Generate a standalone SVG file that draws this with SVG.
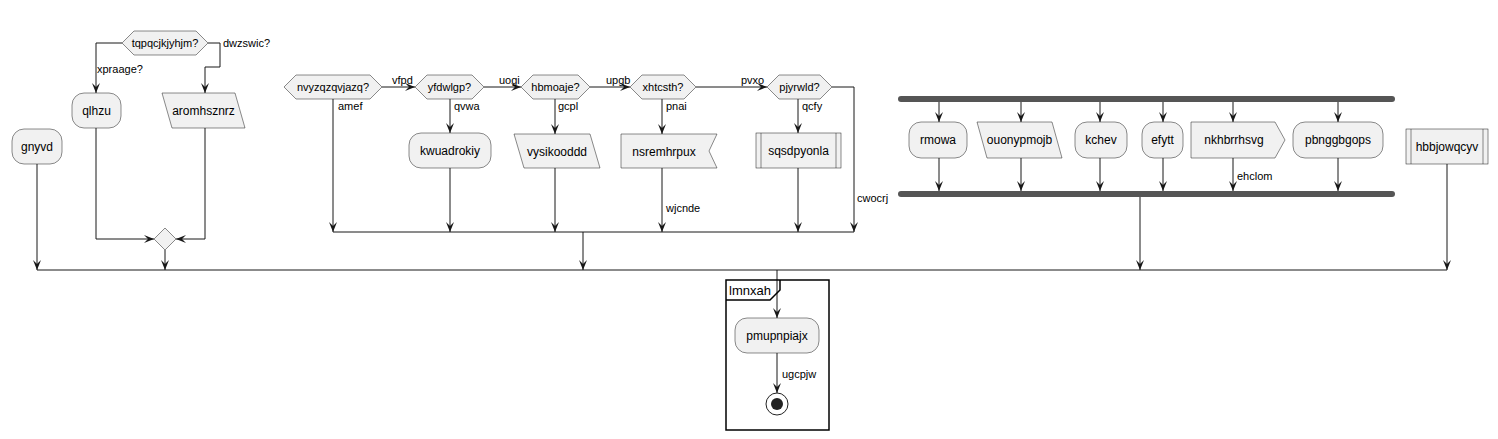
<svg xmlns="http://www.w3.org/2000/svg" width="1498" height="439" viewBox="0 0 1498 439">
<defs>
<style>
.n{fill:#F1F1F1;stroke:#181818;stroke-width:0.5}
.t{font-family:"Liberation Sans",Arial,sans-serif;font-size:12px;fill:#000;text-anchor:middle}
.h{font-family:"Liberation Sans",Arial,sans-serif;font-size:11px;fill:#000;text-anchor:middle}
.l{font-family:"Liberation Sans",Arial,sans-serif;font-size:11px;fill:#000}
.c path{fill:none;stroke:#181818;stroke-width:1}
.c path.a{marker-end:url(#ar)}
.bar{fill:#555555}
</style>
<marker id="ar" markerUnits="userSpaceOnUse" markerWidth="12" markerHeight="10" refX="10" refY="4" orient="auto">
<path d="M0,0 L10,4 L0,8 L4,4 Z" fill="#181818"/>
</marker>
</defs>
<rect width="1498" height="439" fill="#FFFFFF"/>

<g id="connectors" class="c">
<path class="a" d="M122,43 H96 V93"/>
<path class="a" d="M208,43 H220 V67 H205 V93"/>
<path class="a" d="M96,128 V239 H154"/>
<path class="a" d="M205,128 V239 H176"/>
<path class="a" d="M165,250 V270"/>
<path class="a" d="M37,164 V270"/>
<path class="a" d="M382,87 H415"/>
<path class="a" d="M484,87 H521"/>
<path class="a" d="M590,87 H630"/>
<path class="a" d="M696,87 H767"/>
<path class="a" d="M333,99 V232"/>
<path class="a" d="M450,99 V133"/>
<path class="a" d="M450,168 V232"/>
<path class="a" d="M555,99 V134"/>
<path class="a" d="M555,168 V232"/>
<path class="a" d="M662,99 V134"/>
<path class="a" d="M662,168 V232"/>
<path class="a" d="M798,99 V133"/>
<path class="a" d="M798,168 V232"/>
<path class="a" d="M832,87 H854 V232"/>
<path d="M333,232 H854"/>
<path class="a" d="M583,232 V270"/>
<path class="a" d="M939,102 V122"/>
<path class="a" d="M1021,102 V122"/>
<path class="a" d="M1100,102 V122"/>
<path class="a" d="M1163,102 V122"/>
<path class="a" d="M1233,102 V122"/>
<path class="a" d="M1338,102 V122"/>
<path class="a" d="M939,158 V191"/>
<path class="a" d="M1021,158 V191"/>
<path class="a" d="M1100,158 V191"/>
<path class="a" d="M1163,158 V191"/>
<path class="a" d="M1233,158 V191"/>
<path class="a" d="M1338,158 V191"/>
<path class="a" d="M1140,197 V270"/>
<path class="a" d="M1447,164 V270"/>
<path d="M37,270 H1447"/>
<path class="a" d="M777,270 V318"/>
<path class="a" d="M777,353 V393"/>
</g>

<g id="edge-labels">
<text class="l" x="97" y="73">xpraage?</text>
<text class="l" x="223" y="47">dwzswic?</text>
<text class="l" x="392" y="84">vfpd</text>
<text class="l" x="338" y="110">amef</text>
<text class="l" x="454" y="110">qvwa</text>
<text class="l" x="499" y="84">uogi</text>
<text class="l" x="558" y="110">gcpl</text>
<text class="l" x="606" y="84">upgb</text>
<text class="l" x="666" y="110">pnai</text>
<text class="l" x="666" y="212">wjcnde</text>
<text class="l" x="741" y="84">pvxo</text>
<text class="l" x="802" y="110">qcfy</text>
<text class="l" x="857" y="202">cwocrj</text>
<text class="l" x="1237" y="180">ehclom</text>
<text class="l" x="782" y="378">ugcpjw</text>
</g>

<g id="tqpqcjkjyhjm">
<polygon class="n" points="122,43 134,31 196,31 208,43 196,55 134,55"/>
<text class="h" x="165" y="47">tqpqcjkjyhjm?</text>
</g>
<g id="qlhzu">
<rect class="n" x="72" y="93" width="49" height="35" rx="12"/>
<text class="t" x="96.5" y="115">qlhzu</text>
</g>
<g id="aromhsznrz">
<polygon class="n" points="162,93 235,93 245,128 172,128"/>
<text class="t" x="203.5" y="115">aromhsznrz</text>
</g>
<g id="gnyvd">
<rect class="n" x="12" y="129" width="50" height="35" rx="12"/>
<text class="t" x="37" y="151">gnyvd</text>
</g>
<g id="merge1">
<polygon class="n" points="154,239 165,228 176,239 165,250"/>
</g>

<g id="nvyzqzqvjazq">
<polygon class="n" points="284,87 296,75 370,75 382,87 370,99 296,99"/>
<text class="h" x="333" y="91">nvyzqzqvjazq?</text>
</g>
<g id="yfdwlgp">
<polygon class="n" points="415,87 427,75 472,75 484,87 472,99 427,99"/>
<text class="h" x="449.5" y="91">yfdwlgp?</text>
</g>
<g id="kwuadrokiy">
<rect class="n" x="409" y="133" width="82" height="35" rx="12"/>
<text class="t" x="450" y="155">kwuadrokiy</text>
</g>
<g id="hbmoaje">
<polygon class="n" points="521,87 533,75 578,75 590,87 578,99 533,99"/>
<text class="h" x="555.5" y="91">hbmoaje?</text>
</g>
<g id="vysikooddd">
<polygon class="n" points="514,134 590,134 600,168 524,168"/>
<text class="t" x="557" y="156">vysikooddd</text>
</g>
<g id="xhtcsth">
<polygon class="n" points="630,87 642,75 684,75 696,87 684,99 642,99"/>
<text class="h" x="663" y="91">xhtcsth?</text>
</g>
<g id="nsremhrpux">
<polygon class="n" points="621,134 717,134 709,151 717,168 621,168"/>
<text class="t" x="664" y="156">nsremhrpux</text>
</g>
<g id="pjyrwld">
<polygon class="n" points="767,87 779,75 820,75 832,87 820,99 779,99"/>
<text class="h" x="799.5" y="91">pjyrwld?</text>
</g>
<g id="sqsdpyonla">
<rect class="n" x="756" y="133" width="85" height="35"/>
<path d="M761,133 V168 M836,133 V168" stroke="#181818" stroke-width="0.5" fill="none"/>
<text class="t" x="798.5" y="155">sqsdpyonla</text>
</g>

<g id="fork">
<rect class="bar" x="898" y="96" width="497" height="6" rx="3"/>
</g>
<g id="join">
<rect class="bar" x="898" y="191" width="497" height="6" rx="3"/>
</g>
<g id="rmowa">
<rect class="n" x="909" y="122" width="58" height="36" rx="12"/>
<text class="t" x="938" y="144">rmowa</text>
</g>
<g id="ouonypmojb">
<polygon class="n" points="977,122 1052,122 1062,158 987,158"/>
<text class="t" x="1019.5" y="144">ouonypmojb</text>
</g>
<g id="kchev">
<rect class="n" x="1075" y="122" width="52" height="36" rx="12"/>
<text class="t" x="1101" y="144">kchev</text>
</g>
<g id="efytt">
<rect class="n" x="1142" y="122" width="41" height="36" rx="12"/>
<text class="t" x="1162.5" y="144">efytt</text>
</g>
<g id="nkhbrrhsvg">
<polygon class="n" points="1191,122 1275,122 1285,140 1275,158 1191,158"/>
<text class="t" x="1234" y="144">nkhbrrhsvg</text>
</g>
<g id="pbnggbgops">
<rect class="n" x="1293" y="122" width="90" height="36" rx="12"/>
<text class="t" x="1338" y="144">pbnggbgops</text>
</g>
<g id="hbbjowqcyv">
<rect class="n" x="1406" y="129" width="82" height="35"/>
<path d="M1411,129 V164 M1483,129 V164" stroke="#181818" stroke-width="0.5" fill="none"/>
<text class="t" x="1447" y="151">hbbjowqcyv</text>
</g>

<g id="lmnxah">
<rect x="726" y="280" width="103" height="150" fill="none" stroke="#000" stroke-width="1.5"/>
<path d="M726,300 H770 L780,290 V280" fill="none" stroke="#000" stroke-width="1.5"/>
<text class="l" style="font-size:13px" x="729" y="295">lmnxah</text>
</g>
<g id="pmupnpiajx">
<rect class="n" x="735" y="318" width="84" height="35" rx="12"/>
<text class="t" x="777" y="340">pmupnpiajx</text>
</g>
<g id="end">
<circle cx="777" cy="404" r="11" fill="#FFFFFF" stroke="#222222" stroke-width="1"/>
<circle cx="777" cy="404" r="6" fill="#222222"/>
</g>
</svg>
